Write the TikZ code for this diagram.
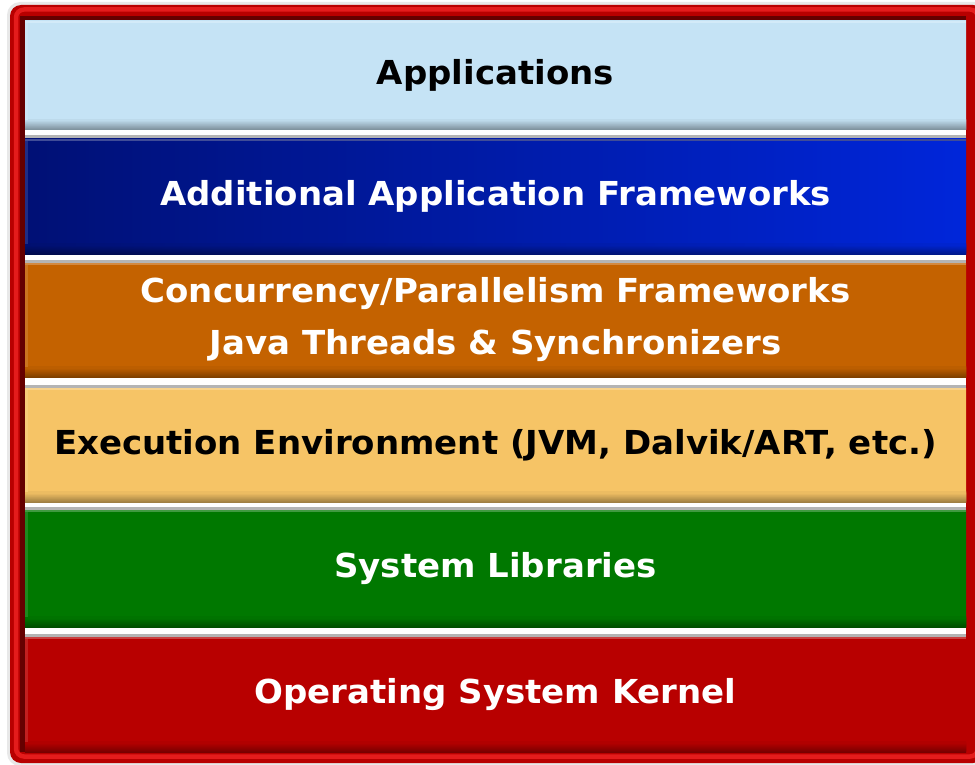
\documentclass[tikz,border=0pt]{standalone}
\usepackage{fontspec}
\setmainfont{DejaVu Sans}
\newfontfamily\layerfont[FakeStretch=1.03]{DejaVu Sans}

\definecolor{framered}{HTML}{B80000}
\definecolor{framelight}{HTML}{E41C1C}
\definecolor{frameshadow}{HTML}{650000}
\definecolor{appblue}{HTML}{C5E3F5}
\definecolor{navyL}{HTML}{001075}
\definecolor{navyR}{HTML}{0026DA}
\definecolor{concorange}{HTML}{C46200}
\definecolor{execyellow}{HTML}{F6C466}
\definecolor{libgreen}{HTML}{007800}
\definecolor{kernelred}{HTML}{B80000}
\definecolor{gapgray}{HTML}{B4B4B4}

\tikzset{
  % one layer of the stack: #1 = colour at the left, #2 = colour at the right
  layer/.style 2 args={
    left color=#1, right color=#2, middle color=#1!50!#2,
    minimum width=941pt, inner sep=0pt, align=center,
    font=\layerfont\bfseries\fontsize{33}{52}\selectfont,
    path picture={
      % darkened bevel along the bottom edge
      \foreach \k in {0,...,9}{
        \pgfmathtruncatemacro\m{100-(10-\k)*3.5}
        \shade[left color=#1!\m!black, right color=#2!\m!black]
          ([yshift=\k pt]path picture bounding box.south west)
          rectangle ([yshift=\k pt+1.2pt]path picture bounding box.south east);
      }
      % light bevel along the top and left edges
      \fill[#1!75!white]
        (path picture bounding box.north west)
        rectangle ([yshift=-2pt]path picture bounding box.north east);
      \fill[#1!88!white]
        ([yshift=-2pt]path picture bounding box.north west)
        rectangle ([xshift=3pt,yshift=10pt]path picture bounding box.south west);
    }
  },
  gapline/.style={fill=gapgray}
}

\begin{document}
\begin{tikzpicture}[x=1pt,y=-1pt]
\useasboundingbox (0,0) rectangle (975,765);
\fill[white] (0,0) rectangle (975,765);

% soft halo and the red frame
\fill[black!9, rounded corners=13pt] (7,2) rectangle (990,766);
\fill[framered, even odd rule] [rounded corners=11pt] (10,5) rectangle (984,763)
  [sharp corners] (25,21) rectangle (966,752);
\draw[framelight, line width=4.5pt, rounded corners=8pt] (16,9.5) rectangle (978,756.5);
\draw[frameshadow, line width=5pt] (22.5,752) -- (22.5,18.5) -- (966,18.5);

% white backing of the stack
\fill[white] (25,21) rectangle (966,752);

% grey lines under each white gap
\fill[gapline] (25,135.5) rectangle (966,139);
\fill[gapline] (25,259.5) rectangle (966,263);
\fill[gapline] (25,384.5) rectangle (966,388);
\fill[gapline] (25,506.5) rectangle (966,510);
\fill[gapline] (25,633.5) rectangle (966,637);

% the layers
\node[layer={appblue}{appblue}, minimum height=109pt, text=black]
  (apps) at (495.5,75.5) {Applications};
\node[layer={navyL}{navyR}, minimum height=115pt, text=white]
  (addfw) at (495.5,196.5) {Additional Application Frameworks};
\node[layer={concorange}{concorange}, minimum height=114pt, text=white]
  (concfw) at (495.5,320) {Concurrency/Parallelism Frameworks\\Java Threads \& Synchronizers};
\node[layer={execyellow}{execyellow}, minimum height=114pt, text=black]
  (execenv) at (495.5,445) {Execution Environment (JVM, Dalvik/ART, etc.)};
\node[layer={libgreen}{libgreen}, minimum height=117pt, text=white]
  (syslibs) at (495.5,568.5) {System Libraries};
\node[layer={kernelred}{kernelred}, minimum height=115pt, text=white]
  (kernel) at (495.5,694.5) {Operating System Kernel};
\end{tikzpicture}
\end{document}
